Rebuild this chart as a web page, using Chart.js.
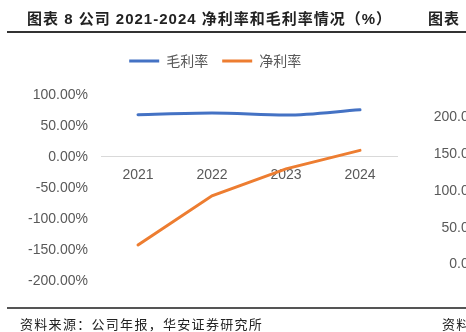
<!DOCTYPE html>
<html>
<head>
<meta charset="utf-8">
<script src="https://cdn.jsdelivr.net/npm/chart.js@4/dist/chart.umd.min.js"></script>
<style>
  html, body { margin:0; padding:0; background:#fff; }
  body { width:466px; height:332px; position:relative; overflow:hidden; font-family:"Liberation Sans", Arial, sans-serif; }
  .t { position:absolute; white-space:nowrap; }
  #title { left:27px; top:7px; font-size:15px; font-weight:bold; color:#222; font-family:"Liberation Sans","Noto Sans CJK SC",sans-serif; letter-spacing:1px; }
  #title2 { left:428px; top:7px; font-size:15px; font-weight:bold; color:#222; font-family:"Noto Sans CJK SC",sans-serif; letter-spacing:1px; }
  #rule1 { position:absolute; left:7px; top:31px; width:470px; height:1.5px; background:#333; }
  #rule2 { position:absolute; left:7px; top:307px; width:470px; height:1.5px; background:#555; }
  #src { left:20px; top:314px; font-size:13px; color:#222; font-family:"Noto Sans CJK SC",sans-serif; letter-spacing:1.3px; }
  #src2 { left:442px; top:314px; font-size:13px; color:#222; font-family:"Noto Sans CJK SC",sans-serif; letter-spacing:1.3px; }
  .r { position:absolute; right:-23px; font-size:14px; color:#595959; text-align:right; }
  #wrap { position:absolute; left:0; top:0; width:466px; height:332px; }
</style>
</head>
<body>
<div id="wrap"><canvas id="c" width="466" height="332"></canvas></div>
<div class="t" id="title">图表 8 公司 2021-2024 净利率和毛利率情况（%）</div>
<div class="t" id="title2">图表</div>
<div id="rule1"></div>
<div id="rule2"></div>
<div class="t" id="src">资料来源：公司年报，华安证券研究所</div>
<div class="t" id="src2">资料</div>
<div class="r" style="top:108px">200.00%</div>
<div class="r" style="top:145px">150.00%</div>
<div class="r" style="top:182px">100.00%</div>
<div class="r" style="top:219px">50.00%</div>
<div class="r" style="top:255px">0.00%</div>
<script>
const categories = ["2021", "2022", "2023", "2024"];
const grossMargin = [67.7, 70.4, 67.2, 75.6];
const netMargin = [-142, -62.9, -19.4, 10.4];

new Chart(document.getElementById('c'), {
  type: 'line',
  data: {
    labels: categories,
    datasets: [
      { label: '毛利率', data: grossMargin, borderColor: '#4472C4', backgroundColor: '#4472C4', borderWidth: 3, pointRadius: 0, borderCapStyle: 'round', tension: 0.15, cubicInterpolationMode: 'monotone' },
      { label: '净利率', data: netMargin, borderColor: '#ED7D31', backgroundColor: '#ED7D31', borderWidth: 3, pointRadius: 0, borderCapStyle: 'round', tension: 0 }
    ]
  },
  options: {
    responsive: false,
    animation: false,
    devicePixelRatio: 1,
    layout: { padding: { top: 40, right: 35.6, bottom: 51, left: 0 } },
    plugins: {
      legend: {
        position: 'top',
        labels: {
          usePointStyle: true, pointStyle: 'line', pointStyleWidth: 30, boxHeight: 14,
          padding: 14, color: '#595959',
          font: { family: '"Noto Sans CJK SC", sans-serif', size: 14 }
        }
      },
      tooltip: { enabled: false }
    },
    scales: {
      x: {
        offset: true,
        position: { y: 0 },
        grid: { display: false, drawTicks: false },
        border: { display: true, color: '#d9d9d9', width: 1 },
        ticks: { color: '#595959', padding: 10, font: { family: '"Liberation Sans", Arial, sans-serif', size: 14 } }
      },
      xTop: {
        type: 'category', position: 'top', display: true,
        grid: { display: false, drawTicks: false }, border: { display: false },
        ticks: { display: false },
        afterFit: (s) => { s.height = 16.7; }
      },
      y: {
        min: -200, max: 100,
        ticks: { stepSize: 50, color: '#595959', padding: 13, font: { family: '"Liberation Sans", Arial, sans-serif', size: 14 },
          callback: (v) => Number(v).toFixed(2) + '%' },
        afterFit: (s) => { s.width = 101; },
        grid: { display: false, drawTicks: false },
        border: { display: false }
      },
      yRight: {
        type: 'linear', position: 'right', display: true,
        grid: { display: false, drawTicks: false }, border: { display: false },
        ticks: { display: false },
        afterFit: (s) => { s.width = 33.4; }
      }
    }
  }
});
</script>
</body>
</html>
